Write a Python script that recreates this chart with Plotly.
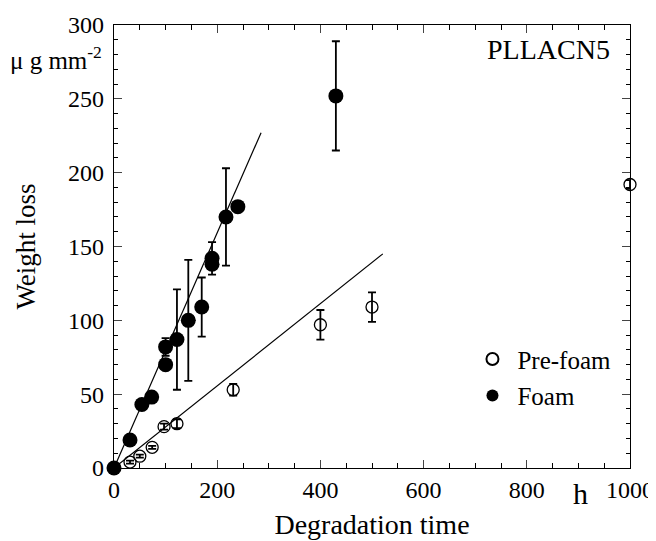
import plotly.graph_objects as go

# Pre-foam (open circles)
pre_t = [31, 50, 74, 97, 122, 231, 400, 500, 1000]
pre_w = [4, 8, 14, 28, 30, 53, 97, 109, 192]
pre_err = [1, 1, 1, 2, 3, 4, 10, 10, 3]

# Foam (filled circles)
foam_t = [0, 31, 54, 73, 100, 100, 122, 144, 170, 190, 190, 217, 240, 430]
foam_w = [0, 19, 43, 48, 70, 82, 87, 100, 109, 138, 142, 170, 177, 252]
foam_err = [0, 0, 0, 0, 0, 6, 34, 41, 20, 0, 11, 33, 2, 37]

# linear fits (endpoints)
fit_foam_t = [0, 285]
fit_foam_w = [0, 227]
fit_pre_t = [0, 521]
fit_pre_w = [0, 145]

font = "Liberation Serif"

fig = go.Figure()
fig.add_trace(go.Scatter(x=fit_foam_t, y=fit_foam_w, mode="lines",
                         line=dict(color="black", width=1.2), showlegend=False, hoverinfo="skip"))
fig.add_trace(go.Scatter(x=fit_pre_t, y=fit_pre_w, mode="lines",
                         line=dict(color="black", width=1.2), showlegend=False, hoverinfo="skip"))
fig.add_trace(go.Scatter(x=pre_t, y=pre_w, mode="markers", name="Pre-foam", legendgroup="a",
                         marker=dict(symbol="circle-open", size=12, color="black", line=dict(width=1.3)),
                         error_y=dict(type="data", array=pre_err, color="black", thickness=1.8, width=4),
                         cliponaxis=False))
fig.add_trace(go.Scatter(x=foam_t, y=foam_w, mode="markers", name="Foam", legendgroup="b",
                         marker=dict(symbol="circle", size=15, color="black"),
                         error_y=dict(type="data", array=foam_err, color="black", thickness=1.8, width=4),
                         cliponaxis=False))

fig.update_layout(
    width=648, height=533,
    margin=dict(l=106, r=26, t=17, b=73, autoexpand=False),
    paper_bgcolor="white", plot_bgcolor="white",
    font=dict(family=font, size=24, color="black"),
    legend=dict(x=0.685, y=0.205, xanchor="left", yanchor="middle", bgcolor="rgba(0,0,0,0)",
                font=dict(family=font, size=25), itemsizing="constant", itemwidth=40,
                tracegroupgap=1),
    xaxis=dict(range=[0, 1000], tickvals=[0, 200, 400, 600, 800, 1000], ticks="inside", ticklen=8,
               tickwidth=1.2, showline=True, linecolor="black", linewidth=1.2, mirror="ticks",
               showgrid=False, zeroline=False, tickfont=dict(family=font, size=24), automargin=False,
               minor=dict(dtick=50, ticks="inside", ticklen=5, tickwidth=1, tickcolor="black"),
               title=dict(text="Degradation time", font=dict(family=font, size=28), standoff=12)),
    yaxis=dict(range=[0, 300], dtick=50, ticks="inside", ticklen=8, tickwidth=1.2,
               showline=True, linecolor="black", linewidth=1.2, mirror="ticks",
               showgrid=False, zeroline=False, tickfont=dict(family=font, size=24), automargin=False,
               ticklabelstandoff=4,
               minor=dict(dtick=10, ticks="inside", ticklen=4, tickwidth=1, tickcolor="black"),
               title=dict(text="Weight loss", font=dict(family=font, size=27), standoff=24)),
    annotations=[
        dict(text="μ g mm<sup>-2</sup>", xref="paper", yref="paper", x=-0.02, y=0.925,
             xanchor="right", yanchor="middle", showarrow=False, font=dict(family=font, size=25)),
        dict(text="h", xref="x", yref="paper", x=905, y=-0.015, xanchor="center", yanchor="top",
             showarrow=False, font=dict(family=font, size=30)),
        dict(text="PLLACN5", xref="paper", yref="paper", x=0.965, y=0.985, xanchor="right",
             yanchor="top", showarrow=False, font=dict(family=font, size=28)),
    ],
)

fig.write_html("out.html")
